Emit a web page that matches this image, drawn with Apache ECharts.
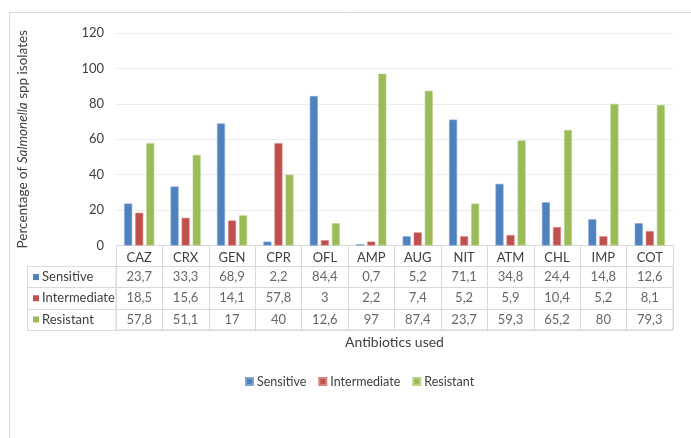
<!DOCTYPE html>
<html>
<head>
<meta charset="utf-8">
<script src="https://cdn.jsdelivr.net/npm/echarts@6/dist/echarts.min.js"></script>
<style>
  html, body { margin: 0; padding: 0; background: #ffffff; }
  #chart { width: 691px; height: 438px; }
</style>
</head>
<body>
<div id="chart"></div>
<script>
// Antibiotic susceptibility of Salmonella spp isolates (%)
const antibiotics = ['CAZ', 'CRX', 'GEN', 'CPR', 'OFL', 'AMP', 'AUG', 'NIT', 'ATM', 'CHL', 'IMP', 'COT'];
const sensitive    = [23.7, 33.3, 68.9, 2.2, 84.4, 0.7, 5.2, 71.1, 34.8, 24.4, 14.8, 12.6];
const intermediate = [18.5, 15.6, 14.1, 57.8, 3, 2.2, 7.4, 5.2, 5.9, 10.4, 5.2, 8.1];
const resistant    = [57.8, 51.1, 17, 40, 12.6, 97, 87.4, 23.7, 59.3, 65.2, 80, 79.3];
const seriesNames  = ['Sensitive', 'Intermediate', 'Resistant'];
const yTicks       = [0, 20, 40, 60, 80, 100, 120];

const colors = ['#4F81BD', '#C0504D', '#9BBB59'];
const borders = ['#7fa5d6', '#d98280', '#b9d486'];
const seriesValues = [sensitive, intermediate, resistant];
const FONT = 'Lato';
const TEXT = '#404040';
const LINE = '#d9d9d9';

// cells of the data table: [column, row, value]
const tableCells = [];
seriesValues.forEach((vals, r) => vals.forEach((v, c) => tableCells.push([c, r, v])));

const fmt = v => String(v).replace('.', ',');

const barSeries = seriesNames.map((name, i) => ({
  name,
  type: 'bar',
  xAxisIndex: 0,
  yAxisIndex: 0,
  data: seriesValues[i],
  barWidth: 8,
  barGap: '38%',
  itemStyle: { color: colors[i], borderColor: borders[i], borderWidth: 0.6 }
}));

const rich = {};
seriesNames.forEach((n, i) => {
  rich['k' + i] = { width: 6, height: 6, backgroundColor: colors[i] };
  rich['t' + i] = { fontFamily: FONT, fontSize: 13, color: TEXT, padding: [0, 0, 0, 3] };
});

const chart = echarts.init(document.getElementById('chart'), null, { renderer: 'canvas' });
chart.setOption({
  animation: false,
  backgroundColor: '#ffffff',
  textStyle: { fontFamily: FONT, color: TEXT },
  graphic: [{
    type: 'rect',
    shape: { x: 9.5, y: 12.5, width: 720, height: 500 },
    style: { fill: 'none', stroke: LINE, lineWidth: 1 },
    silent: true
  }],
  legend: {
    data: seriesNames,
    left: 240,
    top: 370,
    icon: 'rect',
    itemWidth: 7,
    itemHeight: 7,
    itemGap: 12,
    textStyle: { fontFamily: FONT, fontSize: 12.5, color: TEXT, padding: [0, 0, 0, -1] }
  },
  grid: [
    { left: 116, right: 18, top: 33, bottom: 192.5 },
    { left: 116, right: 18, top: 266.5, bottom: 108, show: true, borderColor: LINE, borderWidth: 1 }
  ],
  xAxis: [
    {
      type: 'category',
      gridIndex: 0,
      data: antibiotics,
      axisLine: { lineStyle: { color: LINE } },
      axisTick: { show: true, length: 21, interval: 0, alignWithLabel: false, lineStyle: { color: LINE } },
      axisLabel: { fontFamily: FONT, fontSize: 13, color: TEXT, margin: 6, interval: 0 }
    },
    {
      type: 'category',
      gridIndex: 1,
      data: antibiotics,
      position: 'bottom',
      axisLine: { show: false },
      axisTick: { show: false },
      axisLabel: { show: false },
      splitLine: { show: true, interval: 0, lineStyle: { color: LINE } },
      name: 'Antibiotics used',
      nameLocation: 'middle',
      nameGap: 5,
      nameTextStyle: { fontFamily: FONT, fontSize: 14, color: TEXT, verticalAlign: 'top' }
    }
  ],
  yAxis: [
    {
      type: 'value',
      gridIndex: 0,
      min: yTicks[0],
      max: yTicks[yTicks.length - 1],
      interval: yTicks[1] - yTicks[0],
      axisLine: { show: false },
      axisTick: { show: false },
      axisLabel: { fontFamily: FONT, fontSize: 13, color: TEXT, margin: 12 },
      splitLine: { lineStyle: { color: '#ececec' } },
      name: '{a|Percentage of }{b|Salmonella}{a| spp isolates}',
      nameLocation: 'middle',
      nameGap: 86,
      nameRotate: 90,
      nameTextStyle: {
        rich: {
          a: { fontFamily: FONT, fontSize: 13.5, color: TEXT },
          b: { fontFamily: FONT, fontSize: 13.5, color: TEXT, fontStyle: 'italic' }
        }
      }
    },
    {
      type: 'category',
      gridIndex: 1,
      data: seriesNames,
      inverse: true,
      axisLine: { show: false },
      axisTick: { show: true, length: 89, interval: 0, lineStyle: { color: LINE } },
      axisLabel: {
        margin: 83,
        align: 'left',
        formatter: (v, i) => '{k' + i + '|}{t' + i + '|' + v + '}',
        rich
      },
      splitLine: { show: true, interval: 0, lineStyle: { color: LINE } }
    },
    {
      type: 'category',
      gridIndex: 1,
      data: seriesNames,
      inverse: true,
      position: 'left',
      offset: 89,
      axisLine: { show: true, lineStyle: { color: LINE } },
      axisTick: { show: false },
      axisLabel: { show: false }
    }
  ],
  series: barSeries.concat([{
    name: 'table',
    type: 'scatter',
    xAxisIndex: 1,
    yAxisIndex: 1,
    data: tableCells,
    symbol: 'rect',
    symbolSize: 1,
    itemStyle: { color: 'rgba(0,0,0,0)' },
    silent: true,
    label: {
      show: true,
      position: 'inside',
      fontFamily: FONT,
      fontSize: 13,
      color: TEXT,
      formatter: p => fmt(p.value[2])
    }
  }])
});
</script>
</body>
</html>
